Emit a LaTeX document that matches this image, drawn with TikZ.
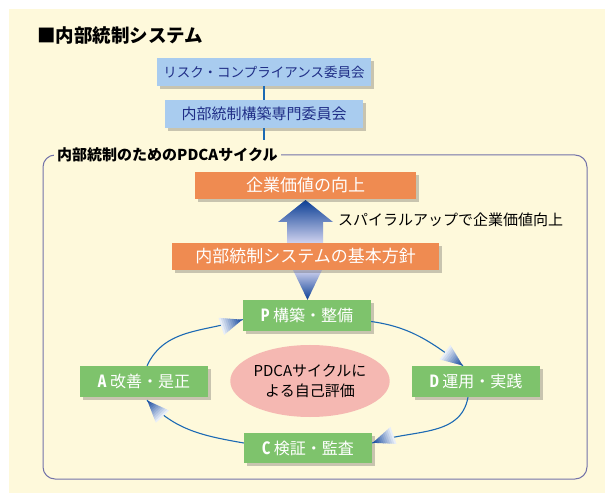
\documentclass[tikz,border=0pt]{standalone}
\usepackage{fontspec}
\setmainfont{Noto Sans CJK JP}
\newfontfamily\letterfont{Fira Sans}[FakeStretch=0.8]
\usetikzlibrary{shadows,shapes.geometric,decorations.markings,calc}
\definecolor{cream}{HTML}{FEF9DB}
\definecolor{frameline}{HTML}{7373A9}
\definecolor{boxblue}{HTML}{A9CCEF}
\definecolor{navy}{HTML}{1F2D86}
\definecolor{boxorange}{HTML}{EF8B51}
\definecolor{boxgreen}{HTML}{7EC36C}
\definecolor{evalpink}{HTML}{F5B8B2}
\definecolor{lineblue}{HTML}{1C6AB4}
\definecolor{tipdark}{HTML}{1B4DA0}
\definecolor{tiplight}{HTML}{E8EEF8}
\definecolor{arrdark}{HTML}{0B3E95}
\definecolor{arrmid}{HTML}{5874BE}
\definecolor{arrlight}{HTML}{D0D3EF}
\newcommand{\gradtip}{%
  \foreach \i in {0,...,10}{%
    \pgfmathsetmacro\xa{-22+2*\i}%
    \pgfmathsetmacro\xb{min(\xa+2.4,0)}%
    \pgfmathsetmacro\ha{9*(-\xa)/22}%
    \pgfmathsetmacro\hb{9*(-\xb)/22}%
    \pgfmathsetmacro\pct{int(10*\i)}%
    \fill[tipdark!\pct!tiplight] (\xa pt,\ha pt) -- (\xb pt,\hb pt) -- (\xb pt,-\hb pt) -- (\xa pt,-\ha pt) -- cycle;
  }}
\tikzset{
  shadowed/.style={drop shadow={shadow xshift=3pt, shadow yshift=-3pt, opacity=0.3, fill=black!70}},
  bluebox/.style={shadowed, fill=boxblue, text=navy, minimum height=28pt, inner sep=0pt},
  orangebox/.style={shadowed, fill=boxorange, text=white, minimum height=27pt, inner sep=0pt, font=\fontsize{17}{19}\selectfont},
  greenbox/.style={shadowed, fill=boxgreen, text=white, minimum width=128pt, minimum height=31pt, inner sep=0pt, font=\fontsize{16}{18}\selectfont},
  conn/.style={draw=lineblue, line width=1.2pt},
  cyc/.style={draw=lineblue, line width=1.1pt, postaction={decorate},
    decoration={markings, mark=at position 0.995 with {\gradtip}}},
}
\newcommand{\pdcaletter}[1]{{\letterfont\bfseries\fontsize{18}{18}\selectfont #1}}
\begin{document}
\begin{tikzpicture}[x=1pt,y=1pt]
\useasboundingbox (0,0) rectangle (605,493);
\fill[cream] (9,0) rectangle (605,484);
\draw[frameline, line width=1pt, rounded corners=12pt] (43,14) rectangle (587,338);
\node[anchor=west, fill=cream, inner sep=3pt, font=\fontsize{15}{17}\selectfont\bfseries] (flabel) at (54,338) {内部統制のためのPDCAサイクル};
\node[anchor=west, inner sep=0pt, font=\fontsize{18.5}{20}\selectfont\bfseries] (title) at (37,458) {■内部統制システム};
% committees
\node[bluebox, minimum width=214pt, font=\fontsize{13.5}{15}\selectfont] (b1) at (264,421) {リスク・コンプライアンス委員会};
\node[bluebox, minimum width=198pt, font=\fontsize{15}{17}\selectfont] (b2) at (264,379) {内部統制構築専門委員会};
\coordinate (bend) at (264,353);
\draw[conn] (b1) -- (b2);
\draw[conn] (b2) -- (bend);
% big arrows
\shade[top color=arrdark, middle color=arrmid, bottom color=arrlight] (305.5,293) -- (333,271) -- (323,271) -- (323,250) -- (287,250) -- (287,271) -- (278,271) -- cycle;
\shade[top color=arrlight, bottom color=arrdark] (293,223) -- (322,223) -- (307.5,193) -- cycle;
\node[orangebox, minimum width=221pt] (o1) at (305.5,307.5) {企業価値の向上};
\node[orangebox, minimum width=267pt] (o2) at (305.5,236.5) {内部統制システムの基本方針};
\node[anchor=west, inner sep=0pt, font=\fontsize{15}{17}\selectfont] (spiral) at (338,273) {スパイラルアップで企業価値向上};
% PDCA
\node[greenbox] (P) at (307,177.5) {\pdcaletter{P} 構築・整備};
\node[greenbox] (A) at (144,111.5) {\pdcaletter{A} 改善・是正};
\node[greenbox] (D) at (476,111.5) {\pdcaletter{D} 運用・実践};
\node[greenbox, minimum height=30pt] (C) at (308,45) {\pdcaletter{C} 検証・監査};
\node[ellipse, fill=evalpink, minimum width=146pt, minimum height=72pt, inner sep=0pt, align=center, font=\fontsize{15}{20}\selectfont] (E) at (310,112) {PDCAサイクルに\\よる自己評価};
\draw[cyc] ([yshift=-6pt]P.east) to[out=-8,in=143] ([xshift=-13pt]D.north);
\draw[cyc] ([xshift=-8pt]D.south) to[out=-100,in=20] ([yshift=5pt]C.east);
\draw[cyc] ([yshift=5pt]C.west) to[out=170,in=-47] ([xshift=3pt,yshift=-3pt]A.south);
\draw[cyc] ([xshift=3pt]A.north) to[out=65,in=198] ([yshift=-4pt]P.west);
\end{tikzpicture}
\end{document}
